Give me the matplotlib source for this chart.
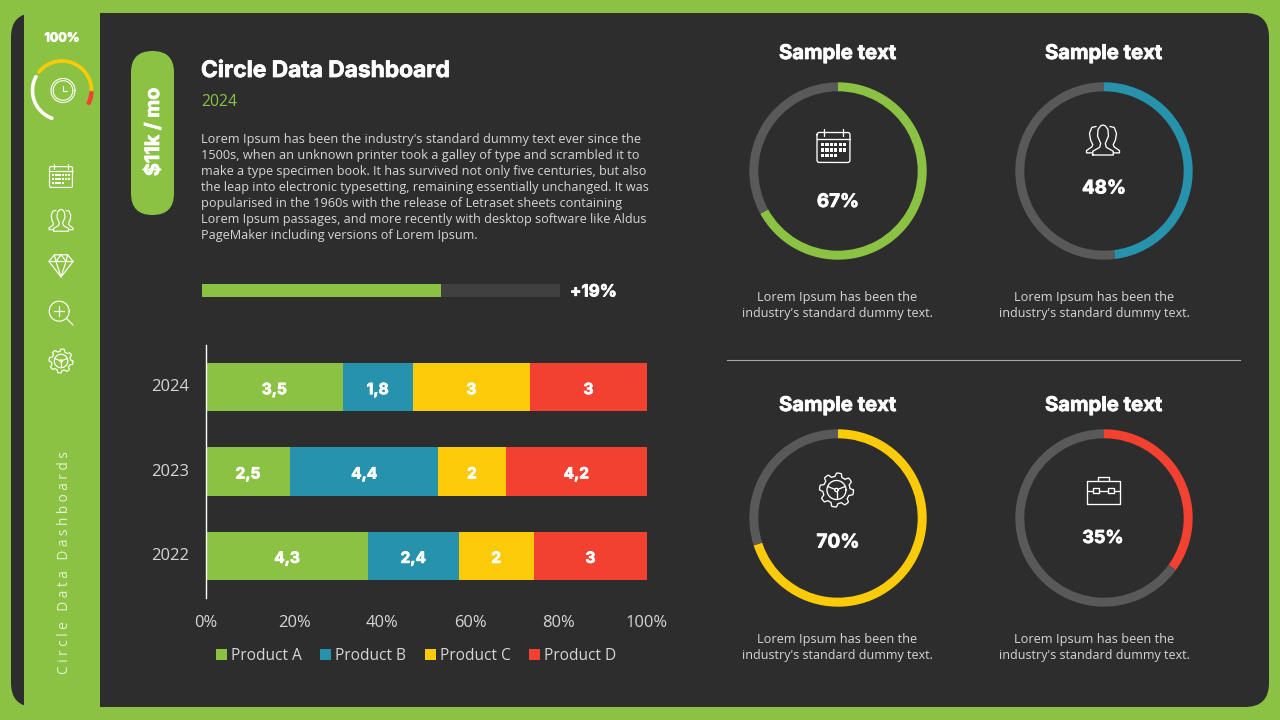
import numpy as np
import matplotlib
matplotlib.use("Agg")
import matplotlib.pyplot as plt
import matplotlib.patheffects as pe
from matplotlib.patches import FancyBboxPatch, Rectangle
from matplotlib.transforms import ScaledTranslation

# ---- data ----
years = ["2022", "2023", "2024"]
products = ["Product A", "Product B", "Product C", "Product D"]
product_a = [4.3, 2.5, 3.5]
product_b = [2.4, 4.4, 1.8]
product_c = [2, 2, 3]
product_d = [3, 4.2, 3]
series = [product_a, product_b, product_c, product_d]
x_ticks = [0, 20, 40, 60, 80, 100]
donut_values = [67, 48, 70, 35]
progress_value = 66.7
title = "Circle Data Dashboard"
paragraph = [
    "Lorem Ipsum has been the industry's standard dummy text ever since the",
    "1500s, when an unknown printer took a galley of type and scrambled it to",
    "make a type specimen book. It has survived not only five centuries, but also",
    "the leap into electronic typesetting, remaining essentially unchanged. It was",
    "popularised in the 1960s with the release of Letraset sheets containing",
    "Lorem Ipsum passages, and more recently with desktop software like Aldus",
    "PageMaker including versions of Lorem Ipsum.",
]
para_right = [642, 640, 650, 650, 625, 650, 478]

GREEN, BLUE, YELLOW, RED = "#8BC243", "#2792AC", "#FBCB0A", "#F24130"
colors = [GREEN, BLUE, YELLOW, RED]
DARK, RING, TRACK = "#2D2D2D", "#595959", "#404040"
LIGHT = "#D6D6D6"
BODY = ["Open Sans", "DejaVu Sans"]
HEAD = ["Inter", "DejaVu Sans"]
HEAVY = [pe.withStroke(linewidth=0.55, foreground="white")]

W, H = 1280, 720
fig = plt.figure(figsize=(12.8, 7.2), dpi=100, facecolor=GREEN)
bg = fig.add_axes([0, 0, 1, 1], zorder=0)
bg.set_xlim(0, W)
bg.set_ylim(H, 0)
bg.axis("off")
renderer = fig.canvas.get_renderer()


def px(v):
    return v * 0.72


def fit_text(x, y, s, width, size, **kw):
    """Place text and scale its font so that it spans `width` pixels."""
    t = bg.text(x, y, s, fontsize=size, **kw)
    w = t.get_window_extent(renderer)
    span = max(w.width, w.height) if kw.get("rotation") else w.width
    t.set_fontsize(size * width / span)
    if kw.get("weight") == "bold":
        t.set_path_effects(HEAVY)
    return t


def stroke(pts, cx, cy, s, lw=0.95, closed=False, color="white"):
    p = np.asarray(pts, float) * s + [cx, cy]
    if closed:
        p = np.vstack([p, p[:1]])
    bg.plot(p[:, 0], p[:, 1], color=color, lw=lw, solid_capstyle="round",
            solid_joinstyle="round", zorder=6)


def circle_pts(x, y, rx, ry=None, a0=0, a1=2 * np.pi):
    t = np.linspace(a0, a1, 80)
    ry = rx if ry is None else ry
    return np.c_[x + rx * np.cos(t), y + ry * np.sin(t)]


def icon_calendar(cx, cy, s, lw=0.95):
    r = .14
    corners = [(-1 + r, -.82 + r, np.pi, 1.5 * np.pi), (1 - r, -.82 + r, 1.5 * np.pi, 2 * np.pi),
               (1 - r, 1 - r, 0, .5 * np.pi), (-1 + r, 1 - r, .5 * np.pi, np.pi)]
    outline = np.vstack([circle_pts(a, b, r, a0=c, a1=d) for a, b, c, d in corners])
    stroke(outline, cx, cy, s, lw, True)
    stroke([(-1, -.42), (1, -.42)], cx, cy, s, lw)
    stroke([(-.58, -1.05), (-.58, -.62)], cx, cy, s, lw)
    stroke([(.58, -1.05), (.58, -.62)], cx, cy, s, lw)
    for row, n in enumerate((6, 6, 4)):
        for c in range(n):
            bg.add_patch(Rectangle((cx + s * (-.76 + c * .27), cy + s * (-.2 + row * .34)),
                                   s * .19, s * .21, fc="white", ec="none", zorder=6))


def icon_people(cx, cy, s, lw=0.95):
    stroke([(-.62, .85), (.62, .85), (.62, .62), (.2, .38), (.14, .15), (.33, -.3), (.3, -.7),
            (.14, -.92), (0, -.97), (-.14, -.92), (-.3, -.7), (-.33, -.3), (-.14, .15), (-.2, .38),
            (-.62, .62)], cx, cy, s, lw, True)
    for m in (-1, 1):
        stroke([(m * .42, -.88), (m * .68, -.82), (m * .82, -.45), (m * .75, -.05), (m * .62, .22),
                (m * .68, .36), (m * 1, .58), (m * 1, .72), (m * .66, .72)], cx, cy, s, lw)


def icon_diamond(cx, cy, s, lw=0.95):
    stroke([(-1, -.3), (-.55, -.85), (.55, -.85), (1, -.3), (0, 1)], cx, cy, s, lw, True)
    stroke([(-1, -.3), (1, -.3)], cx, cy, s, lw)
    stroke([(-.42, -.3), (0, 1), (.42, -.3), (.55, -.85)], cx, cy, s, lw)
    stroke([(-.55, -.85), (-.42, -.3), (0, -.85), (.42, -.3)], cx, cy, s, lw)


def icon_zoom(cx, cy, s, lw=0.95):
    stroke(circle_pts(-.15, -.15, .83), cx, cy, s, lw)
    stroke([(-.55, -.15), (.25, -.15)], cx, cy, s, lw)
    stroke([(-.15, -.55), (-.15, .25)], cx, cy, s, lw)
    stroke([(.45, .45), (1, 1)], cx, cy, s, lw)


def icon_gear(cx, cy, s, lw=0.95):
    t = np.linspace(0, 2 * np.pi, 400)
    r = .9 + .1 * np.clip(np.sin(8 * t + .4) * 2.2, -1, 1)
    stroke(np.c_[r * np.cos(t), r * np.sin(t)], cx, cy, s, lw)
    stroke(circle_pts(0, 0, .56), cx, cy, s, lw)
    stroke(circle_pts(0, 0, .1), cx, cy, s, lw)
    stroke([(-.5, -.2), (-.09, -.04)], cx, cy, s, lw)
    stroke([(.5, -.2), (.09, -.04)], cx, cy, s, lw)
    stroke([(0, .1), (0, .54)], cx, cy, s, lw)


def icon_case(cx, cy, s, lw=0.95):
    stroke([(-1, -.55), (1, -.55), (1, .85), (-1, .85)], cx, cy, s, lw, True)
    stroke([(-1, .05), (-.62, .05)], cx, cy, s, lw)
    stroke([(-.3, .05), (.3, .05)], cx, cy, s, lw)
    stroke([(.62, .05), (1, .05)], cx, cy, s, lw)
    stroke([(-.35, -.55), (-.35, -.8), (.35, -.8), (.35, -.55)], cx, cy, s, lw)
    for m in (-1, 1):
        stroke([(m * .3, -.12), (m * .62, -.12), (m * .62, .22), (m * .3, .22)], cx, cy, s, lw, True)


# ---- panels ----
bg.add_patch(FancyBboxPatch((11 + 24, 13 + 24), 1258 - 48, 694 - 48,
                            boxstyle="round,pad=24,rounding_size=24", fc=DARK, ec="none", zorder=1))
bg.add_patch(Rectangle((24, 13), 76, 694, fc=GREEN, ec="none", zorder=2))

# ---- sidebar ----
t100 = bg.text(62, 38.5, "100%", color="white", family=HEAD, weight="bold", fontsize=px(12.5),
               ha="center", va="center", zorder=6, path_effects=HEAVY)
gx, gy, gr = 62, 90.5, 29.5
bg.plot(*circle_pts(gx, gy, gr, a0=np.radians(110), a1=np.radians(208)).T, color="white",
        lw=2.6, solid_capstyle="round", zorder=6)
bg.plot(*circle_pts(gx, gy, gr, a0=np.radians(216), a1=np.radians(360)).T, color=YELLOW,
        lw=2.6, solid_capstyle="butt", zorder=6)
bg.plot(*circle_pts(gx, gy, gr, a0=np.radians(5), a1=np.radians(25)).T, color=RED,
        lw=3.2, solid_capstyle="round", zorder=6)
stroke(circle_pts(0, 0, 12), 63, 90.5, 1, .8)
stroke(circle_pts(0, 0, 9.8), 63, 90.5, 1, .8)
stroke([(0, -4.5), (0, 0), (3.5, 0)], 63, 90.5, 1, .8)
icon_calendar(61, 176, 11.5, .85)
icon_people(61, 221, 12, .85)
icon_diamond(61, 265, 12, .85)
icon_zoom(61, 313, 12, .85)
icon_gear(61, 361, 12, .85)
fit_text(65, 562.5, "C i r c l e   D a t a   D a s h b o a r d s", 225, px(11.5), color="#E6F0D5",
         family=BODY, rotation=90, ha="center", va="center", zorder=6)

# ---- header column ----
bg.add_patch(FancyBboxPatch((131 + 21.5, 51 + 21.5), 0.01, 164 - 43,
                            boxstyle="round,pad=21.5,rounding_size=21.5", fc=GREEN, ec="none", zorder=3))
fit_text(154, 132, "$11k / mo", 88, px(19), color="white", family=HEAD, weight="bold",
         rotation=90, ha="center", va="center", zorder=6)
fit_text(201, 71, title, 249, px(22), color="white", family=HEAD, weight="bold",
         ha="left", va="center", zorder=6)
fit_text(201, 102, "2024", 36, px(16), color=GREEN, family=BODY, ha="left", va="center", zorder=6)
for i, (line, right) in enumerate(zip(paragraph, para_right)):
    fit_text(201, 139 + 16 * i, line, right - 201, px(12.5), color=LIGHT, family=BODY,
             ha="left", va="center", zorder=6)

# progress bar
bar_ax = fig.add_axes([202 / W, 1 - 297 / H, 358 / W, 13 / H], facecolor=TRACK)
bar_ax.barh([0], [progress_value], height=1, color=GREEN)
bar_ax.set_xlim(0, 100)
bar_ax.set_ylim(-.5, .5)
bar_ax.axis("off")
bar_ax.add_patch(Rectangle((0, 0), 1, 1, transform=bar_ax.transAxes, fc=TRACK, ec="none", zorder=0))
fit_text(570, 292, "+19%", 47, px(19), color="white", family=HEAD, weight="bold",
         ha="left", va="center", zorder=6)

# ---- stacked 100 % bars ----
ax = fig.add_axes([206 / W, 1 - 598 / H, 441 / W, 253 / H], facecolor="none", zorder=3)
totals = np.sum(series, axis=0)
left = np.zeros(len(years))
for name, vals, col in zip(products, series, colors):
    share = np.array(vals) / totals * 100
    bars = ax.barh(years, share, left=left, height=0.57, color=col, label=name)
    texts = ax.bar_label(bars, labels=[str(v).replace(".", ",") for v in vals], label_type="center",
                         color="white", family=HEAD, weight="bold", fontsize=px(15.5))
    for t in texts:
        t.xyann = (t.xyann[0], t.xyann[1] - px(2.5))
        t.set_path_effects(HEAVY)
    left += share
ax.set_xlim(0, 100)
ax.set_ylim(-.5, 2.5)
ax.set_xticks(x_ticks, [f"{v}%" for v in x_ticks])
ax.tick_params(length=0, colors=LIGHT, labelsize=px(16.5))
ax.tick_params(axis="x", pad=px(17))
ax.tick_params(axis="y", pad=px(17))
for lab in ax.get_xticklabels() + ax.get_yticklabels():
    lab.set_family(BODY)
up = ScaledTranslation(0, 2 / 100, fig.dpi_scale_trans)
for lab in ax.get_yticklabels():
    lab.set_transform(lab.get_transform() + up)
for side in ("top", "right", "bottom"):
    ax.spines[side].set_visible(False)
ax.spines["left"].set_color("white")
ax.spines["left"].set_linewidth(1)
handles = [Rectangle((0, 0), 1, 1, fc=c) for c in colors]
leg = ax.legend(handles, products, ncol=4, frameon=False, loc="center",
                bbox_to_anchor=(0.477, -0.23), prop={"family": BODY, "size": px(15.5)},
                labelcolor=LIGHT, handlelength=.68, handleheight=.68, handletextpad=.28,
                columnspacing=1.2, borderpad=0, borderaxespad=0)

# ---- donuts ----
centers = [(838, 171), (1104, 171), (838, 518), (1104, 518)]
ring_colors = [GREEN, BLUE, YELLOW, RED]
R = 88.7
for (cx, cy), v, c in zip(centers, donut_values, ring_colors):
    d = fig.add_axes([(cx - R) / W, 1 - (cy + R) / H, 2 * R / W, 2 * R / H], facecolor="none", zorder=3)
    d.pie([v, 100 - v], colors=[c, RING], startangle=90, counterclock=False, radius=1,
          wedgeprops={"width": 9 / R, "linewidth": 0})
    d.set_xlim(-1, 1)
    d.set_ylim(-1, 1)

label_pos = [(838, 202.5), (1104, 188.5), (838, 542.5), (1103, 538.5)]
label_w = [42, 44, 43, 41]
for (x, y), v, w in zip(label_pos, donut_values, label_w):
    fit_text(x, y, f"{v}%", w, px(20), color="white", family=HEAD, weight="bold",
             ha="center", va="center", zorder=6)

icon_calendar(833.5, 146, 16.5)
icon_people(1103, 141, 16.5)
icon_gear(836.5, 490, 17)
icon_case(1103.5, 489.7, 16.5)

head_pos = [(837.5, 54), (1103.5, 54), (837.5, 406), (1103.5, 406)]
cap_x = [837.5, 1094.5, 837.5, 1094.5]
cap_y = [(298, 314), (298, 314), (640, 656), (640, 656)]
for (hx, hy), cx, (y0, y1) in zip(head_pos, cap_x, cap_y):
    fit_text(hx, hy, "Sample text", 117, px(19), color="white", family=HEAD, weight="bold",
             ha="center", va="center", zorder=6)
    fit_text(cx, y0, "Lorem Ipsum has been the", 161, px(12.5), color=LIGHT, family=BODY,
             ha="center", va="center", zorder=6)
    fit_text(cx, y1, "industry's standard dummy text.", 191, px(12.5), color=LIGHT, family=BODY,
             ha="center", va="center", zorder=6)

bg.plot([727, 1240], [360, 360], color="#A6A6A6", lw=.8, zorder=4)

fig.savefig("out.png", dpi=100, facecolor=GREEN)
